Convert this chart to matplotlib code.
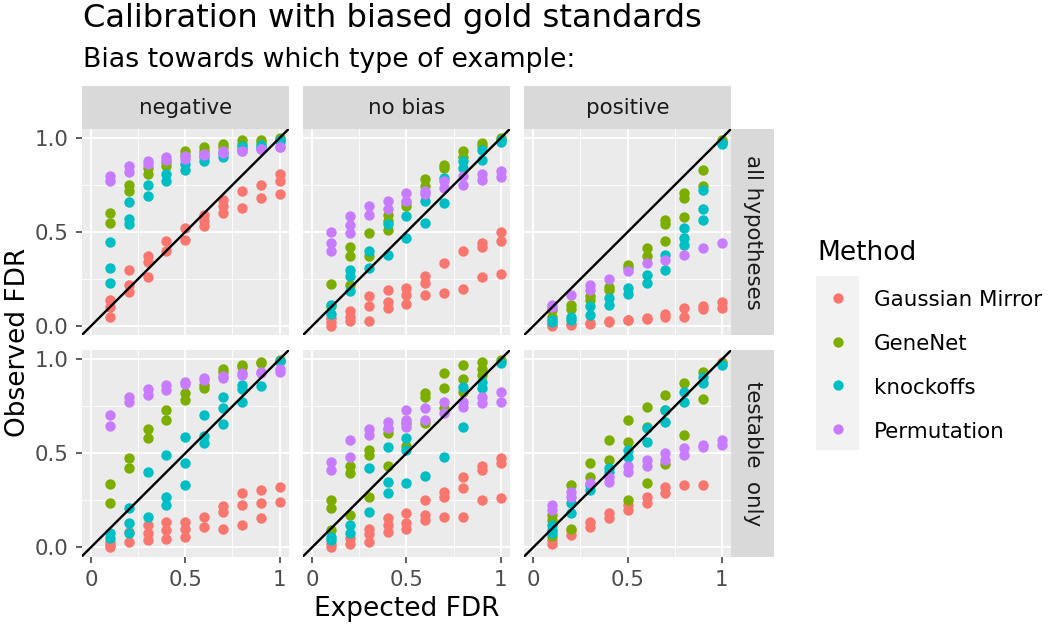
import matplotlib
matplotlib.use("Agg")
from matplotlib import pyplot as plt
from matplotlib.lines import Line2D
from matplotlib.patches import Rectangle

# expected FDR levels (x axis)
fdr_levels = [0.1, 0.2, 0.3, 0.4, 0.5, 0.6, 0.7, 0.8, 0.9, 1.0]

methods = ["Gaussian Mirror", "GeneNet", "knockoffs", "Permutation"]
method_colors = ["#F8766D", "#7CAE00", "#00BFC4", "#C77CFF"]

bias_labels = ["negative", "no bias", "positive"]
row_labels = ["all hypotheses", "testable  only"]

# observed FDR, one list of replicates per FDR level
# --- all hypotheses ---
gm_neg_all = [[0.14, 0.10, 0.05], [0.30, 0.22, 0.18], [0.37, 0.34, 0.26], [0.45, 0.40], [0.52, 0.46],
              [0.59, 0.56, 0.53], [0.67, 0.64, 0.60], [0.72, 0.63], [0.75, 0.68], [0.81, 0.77, 0.70]]
gn_neg_all = [[0.60, 0.55], [0.75, 0.72], [0.84, 0.81], [0.87, 0.85], [0.93, 0.91],
              [0.95, 0.93], [0.97, 0.95], [0.99, 0.97], [0.99, 0.98], [1.00, 0.99]]
ko_neg_all = [[0.445, 0.31, 0.23], [0.66, 0.57, 0.54], [0.75, 0.69], [0.81, 0.77], [0.86, 0.83],
              [0.88, 0.90], [0.90, 0.92], [0.956, 0.94], [0.965, 0.95], [0.98, 0.99]]
pm_neg_all = [[0.80, 0.77], [0.85, 0.82], [0.88, 0.86], [0.90, 0.885], [0.906, 0.89],
              [0.917, 0.91], [0.93, 0.92], [0.933, 0.93], [0.943, 0.94], [0.95, 0.95]]

gm_nob_all = [[0.04, 0.0, 0.02], [0.08, 0.05, 0.025], [0.158, 0.108, 0.025], [0.193, 0.13, 0.096],
              [0.20, 0.167, 0.119], [0.264, 0.229, 0.163], [0.335, 0.176], [0.40, 0.199],
              [0.44, 0.42, 0.259], [0.50, 0.45, 0.277]]
gn_nob_all = [[0.223, 0.105], [0.42, 0.37, 0.22], [0.495, 0.37], [0.59, 0.557, 0.512], [0.66, 0.64],
              [0.78, 0.743], [0.858, 0.84], [0.93, 0.90], [0.973, 0.96], [1.0, 0.99]]
ko_nob_all = [[0.113, 0.064], [0.30, 0.264, 0.184], [0.40, 0.31], [0.54, 0.38], [0.583, 0.47],
              [0.663, 0.55], [0.787, 0.654], [0.876, 0.84], [0.938, 0.885], [0.99, 0.98]]
pm_nob_all = [[0.50, 0.44, 0.40], [0.583, 0.539, 0.495], [0.637, 0.59], [0.663, 0.62], [0.707, 0.663],
              [0.70, 0.72], [0.77, 0.734], [0.796, 0.75], [0.81, 0.778], [0.823, 0.79]]

gm_pos_all = [[0.007, 0.0], [0.01, 0.005], [0.016, 0.01], [0.025, 0.02], [0.034, 0.03],
              [0.043, 0.035], [0.064, 0.05], [0.096, 0.05], [0.105, 0.09], [0.13, 0.096]]
gn_pos_all = [[0.087, 0.05], [0.113, 0.09], [0.158, 0.14], [0.21, 0.19], [0.326, 0.31],
              [0.415, 0.37], [0.566, 0.54, 0.454], [0.707, 0.68, 0.578], [0.83, 0.743], [0.99, 0.98]]
ko_pos_all = [[0.034, 0.02], [0.05, 0.034], [0.105, 0.06], [0.15, 0.113], [0.20, 0.17],
              [0.273, 0.229], [0.38, 0.30], [0.52, 0.468, 0.433], [0.725, 0.62, 0.566], [0.973, 0.97]]
pm_pos_all = [[0.113, 0.10], [0.163], [0.22, 0.193], [0.25], [0.29],
              [0.335], [0.353], [0.38], [0.415], [0.44]]

# --- testable only ---
gm_neg_test = [[0.03, 0.0, 0.01], [0.083, 0.03], [0.119, 0.074, 0.039], [0.137, 0.092, 0.043],
               [0.137, 0.10, 0.057], [0.163, 0.11], [0.22, 0.19, 0.10], [0.287, 0.225, 0.119],
               [0.305, 0.234, 0.154], [0.323, 0.243]]
gn_neg_test = [[0.337, 0.238], [0.473, 0.42], [0.628, 0.583], [0.73, 0.677], [0.82, 0.784],
               [0.863, 0.85], [0.947, 0.93], [0.97, 0.96], [0.988, 0.98], [0.996, 0.99]]
ko_neg_test = [[0.074, 0.048], [0.207, 0.128, 0.074], [0.40, 0.163], [0.49, 0.27, 0.225],
               [0.585, 0.45, 0.33], [0.704, 0.59, 0.553], [0.80, 0.74, 0.656], [0.863, 0.84, 0.775],
               [0.858], [0.99]]
pm_neg_test = [[0.704, 0.645], [0.80, 0.775], [0.84, 0.81], [0.863, 0.837], [0.88, 0.87],
               [0.90, 0.89], [0.91, 0.90], [0.925, 0.915], [0.934, 0.925], [0.934, 0.95]]

gm_nob_test = [[0.0, 0.02], [0.048, 0.02], [0.10, 0.07, 0.03], [0.154, 0.119, 0.083],
               [0.184, 0.128, 0.10], [0.252, 0.172, 0.145], [0.296, 0.27, 0.163],
               [0.376, 0.314, 0.163], [0.43, 0.41, 0.252], [0.473, 0.45, 0.26]]
gn_nob_test = [[0.25, 0.207, 0.092], [0.43, 0.394, 0.172], [0.518, 0.49, 0.27], [0.628, 0.61, 0.433],
               [0.54, 0.66], [0.82, 0.80, 0.66], [0.925, 0.846, 0.74], [0.97, 0.894, 0.828],
               [0.988, 0.947, 0.917], [0.996]]
ko_nob_test = [[0.057, 0.04], [0.119, 0.078], [0.42, 0.19], [0.535, 0.35, 0.287], [0.58, 0.518, 0.34],
               [0.38], [0.482], [0.855, 0.638], [0.88, 0.846], [0.982]]
pm_nob_test = [[0.456, 0.41], [0.57, 0.48], [0.628, 0.597], [0.668, 0.633], [0.73, 0.677, 0.642],
               [0.74, 0.677], [0.775, 0.713], [0.775, 0.748], [0.80, 0.77], [0.828, 0.775]]

gm_pos_test = [[0.039, 0.02], [0.092, 0.066], [0.137, 0.11], [0.18, 0.154], [0.225, 0.20],
               [0.27, 0.234], [0.323, 0.287], [0.33], [0.33], [0.988]]
gn_pos_test = [[0.172, 0.145, 0.06], [0.33, 0.10], [0.447, 0.376], [0.57, 0.465], [0.677, 0.562, 0.252],
               [0.748, 0.642, 0.34], [0.81, 0.73, 0.443], [0.872, 0.598], [0.934, 0.787], [0.98]]
ko_pos_test = [[0.119, 0.092, 0.074], [0.234, 0.18], [0.305, 0.33], [0.42, 0.40], [0.518, 0.482],
               [0.633, 0.562], [0.73, 0.668], [0.828, 0.775], [0.908, 0.872], [0.97]]
pm_pos_test = [[0.225, 0.20], [0.296, 0.27], [0.34], [0.376, 0.35], [0.43, 0.40],
               [0.465, 0.43], [0.50, 0.465], [0.527, 0.49], [0.535, 0.545], [0.57, 0.544]]

panels = [
    [[gm_neg_all, gn_neg_all, ko_neg_all, pm_neg_all],
     [gm_nob_all, gn_nob_all, ko_nob_all, pm_nob_all],
     [gm_pos_all, gn_pos_all, ko_pos_all, pm_pos_all]],
    [[gm_neg_test, gn_neg_test, ko_neg_test, pm_neg_test],
     [gm_nob_test, gn_nob_test, ko_nob_test, pm_nob_test],
     [gm_pos_test, gn_pos_test, ko_pos_test, pm_pos_test]],
]

W, H = 1050, 624


def rect(x0, y0, x1, y1):
    # pixel box (top-left origin) -> figure fraction
    return [x0 / W, 1 - y1 / H, (x1 - x0) / W, (y1 - y0) / H]


plt.rcParams['font.family'] = ['DejaVu Sans']
fig = plt.figure(figsize=(W / 100, H / 100), dpi=100)

small = 15.4    # tick labels, strips, legend text
base = 19.0     # axis titles, legend title
sub = 19.3      # subtitle
big = 23.2      # title

col_left = [81.5, 302.7, 523.9]
panel_w = 207.5
row_top = [128.6, 349.9]
panel_h = 206.8
strip_bg = "#D9D9D9"

for r in range(2):
    for c in range(3):
        x0 = col_left[c]
        y0 = row_top[r]
        ax = fig.add_axes(rect(x0, y0, x0 + panel_w, y0 + panel_h))
        ax.set_facecolor("#EBEBEB")
        ax.set_xlim(-0.05, 1.05)
        ax.set_ylim(-0.05, 1.05)
        for v in [0.25, 0.75]:
            ax.axvline(v, color="white", lw=0.6, zorder=0)
            ax.axhline(v, color="white", lw=0.6, zorder=0)
        for v in [0, 0.5, 1]:
            ax.axvline(v, color="white", lw=1.3, zorder=0)
            ax.axhline(v, color="white", lw=1.3, zorder=0)
        for s in ax.spines.values():
            s.set_visible(False)

        for m in range(4):
            reps = panels[r][c][m]
            xs = []
            ys = []
            for i, vals in enumerate(reps):
                for v in vals:
                    xs.append(fdr_levels[i])
                    ys.append(v)
            ax.scatter(xs, ys, s=56, color=method_colors[m], linewidths=0, zorder=2)

        ax.axline((0, 0), (1, 1), color="black", lw=1.7, zorder=3)

        ax.set_xticks([0, 0.5, 1])
        ax.set_yticks([0, 0.5, 1])
        ax.tick_params(length=4.1, width=1.1, color="#333333", labelsize=small,
                       labelcolor="#4D4D4D")
        ax.tick_params(axis="x", pad=5.5)
        ax.tick_params(axis="y", pad=5)
        if r == 1:
            ax.set_xticklabels(["0", "0.5", "1"])
        else:
            ax.tick_params(axis="x", length=0, labelbottom=False)
        if c == 0:
            ax.set_yticklabels(["0.0", "0.5", "1.0"])
        else:
            ax.tick_params(axis="y", length=0, labelleft=False)

        # top strips
        if r == 0:
            sax = fig.add_axes(rect(x0, 86, x0 + panel_w, 128.6))
            sax.set_facecolor(strip_bg)
            sax.set_xticks([])
            sax.set_yticks([])
            for s in sax.spines.values():
                s.set_visible(False)
            fig.text((x0 + panel_w / 2) / W, 1 - 113.5 / H, bias_labels[c], ha="center",
                     va="baseline", fontsize=small, color="#1A1A1A")

    # right strips
    rax = fig.add_axes(rect(731.4, row_top[r], 774, row_top[r] + panel_h))
    rax.set_facecolor(strip_bg)
    rax.set_xticks([])
    rax.set_yticks([])
    for s in rax.spines.values():
        s.set_visible(False)
    rax.text(0.5, 0.5, row_labels[r], ha="center", va="center", rotation=-90,
             fontsize=small, color="#1A1A1A", transform=rax.transAxes)

# titles
fig.text(83 / W, 1 - 27 / H, "Calibration with biased gold standards", fontsize=big,
         va="baseline", ha="left", color="black")
fig.text(83 / W, 1 - 66.7 / H, "Bias towards which type of example:", fontsize=sub,
         va="baseline", ha="left", color="black")
fig.text(406.5 / W, 1 - 616 / H, "Expected FDR", fontsize=base, ha="center", va="baseline")
fig.text(25 / W, 1 - 342.6 / H, "Observed FDR", fontsize=base, ha="center", va="baseline",
         rotation=90, rotation_mode="anchor")

# legend
fig.text(817 / W, 1 - 260 / H, "Method", fontsize=base, ha="left", va="baseline")
fig.add_artist(Rectangle((816 / W, 1 - 450 / H), 43 / W, 174 / H,
                         transform=fig.transFigure, facecolor="#F2F2F2", edgecolor="none"))
key_y = [298, 342, 385, 429]
for m in range(4):
    fig.add_artist(Line2D([838 / W], [1 - key_y[m] / H], marker="o", markersize=7.4,
                          color=method_colors[m], markeredgewidth=0, linestyle="none",
                          transform=fig.transFigure))
    fig.text(874 / W, 1 - (key_y[m] + 8.5) / H, methods[m], fontsize=small, ha="left",
             va="baseline")

fig.savefig("out.png", dpi=100)
